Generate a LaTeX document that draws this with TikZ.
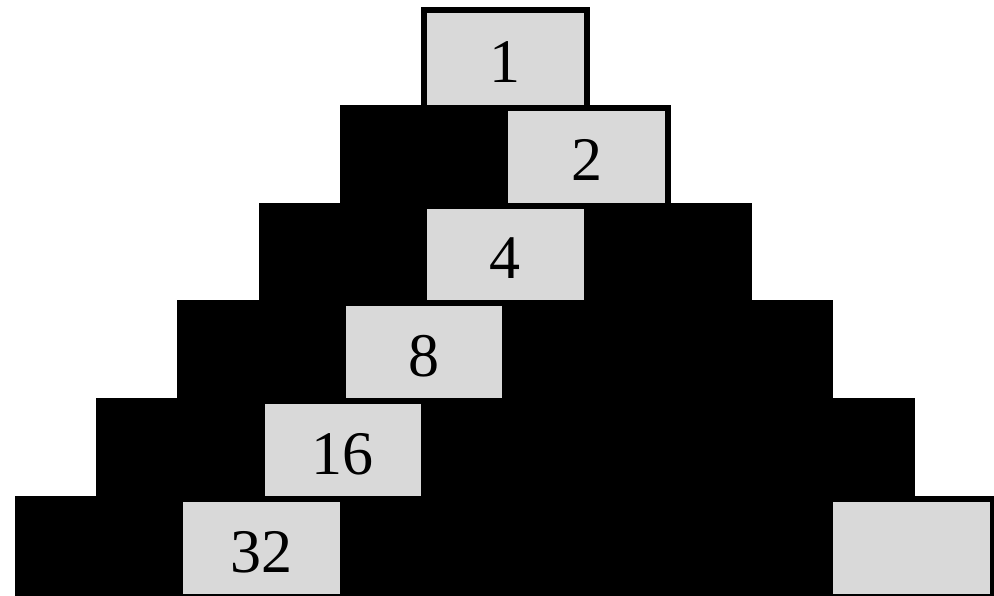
\documentclass[tikz,border=0pt]{standalone}
\usepackage{fontspec}
\setmainfont{Liberation Serif}
\definecolor{cellgray}{HTML}{D9D9D9}
\tikzset{
  cell/.style={draw=black, line width=6pt, rectangle, inner sep=0pt, outer sep=0pt,
    minimum width=162.5pt, minimum height=97.8pt, anchor=north west},
  dark/.style={cell, fill=black},
  light/.style={cell, fill=cellgray},
  num/.style={anchor=base, inner sep=0pt, font=\fontsize{62}{62}\selectfont}
}
\begin{document}
\begin{tikzpicture}[x=1pt, y=-1pt]
\useasboundingbox (0,0) rectangle (994,596);
% row 0
\node[light] (b00) at (424,10) {};
% row 1
\node[dark]  (b10) at (342.75,107.8) {};
\node[light] (b11) at (505.25,107.8) {};
% row 2
\node[dark]  (b20) at (261.5,205.6) {};
\node[light] (b21) at (424,205.6) {};
\node[dark]  (b22) at (586.5,205.6) {};
% row 3
\node[dark]  (b30) at (180.25,303.4) {};
\node[light] (b31) at (342.75,303.4) {};
\node[dark]  (b32) at (505.25,303.4) {};
\node[dark]  (b33) at (667.75,303.4) {};
% row 4
\node[dark]  (b40) at (99,401.2) {};
\node[light] (b41) at (261.5,401.2) {};
\node[dark]  (b42) at (424,401.2) {};
\node[dark]  (b43) at (586.5,401.2) {};
\node[dark]  (b44) at (749,401.2) {};
% row 5
\node[dark]  (b50) at (17.75,499) {};
\node[light] (b51) at (180.25,499) {};
\node[dark]  (b52) at (342.75,499) {};
\node[dark]  (b53) at (505.25,499) {};
\node[dark]  (b54) at (667.75,499) {};
\node[light] (b55) at (830.25,499) {};
% labels
\node[num] (t1)  at ([yshift=-73pt]b00.north) {1};
\node[num] (t2)  at ([yshift=-73pt]b11.north) {2};
\node[num] (t4)  at ([yshift=-73pt]b21.north) {4};
\node[num] (t8)  at ([yshift=-73pt]b31.north) {8};
\node[num] (t16) at ([yshift=-73pt]b41.north) {16};
\node[num] (t32) at ([yshift=-73pt]b51.north) {32};
\end{tikzpicture}
\end{document}
